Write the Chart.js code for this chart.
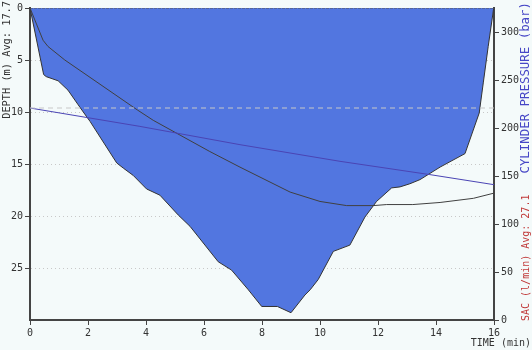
<!DOCTYPE html>
<html>
<head>
<meta charset="utf-8">
<script src="https://cdn.jsdelivr.net/npm/chart.js@4.4.1/dist/chart.umd.min.js"></script>
<style>
  body { margin: 0; background: #f4fafa; }
  #wrap { width: 532px; height: 350px; }
</style>
</head>
<body>
<div id="wrap"><canvas id="diveChart" width="532" height="350"></canvas></div>
<script>
// dive profile (time in min, depth in m)
var profileTime  = [0, 0.47, 0.56, 0.97, 1.31, 1.66, 1.94, 2.07, 2.99, 3.22, 3.56, 4.02, 4.48, 5.11, 5.52, 6.49, 6.95, 7.53, 7.99, 8.53, 9.0, 9.48, 9.66, 9.94, 10.46, 11.03, 11.55, 11.95, 12.47, 12.76, 13.1, 13.45, 14.14, 15.0, 15.49, 15.63, 15.8, 15.98, 16];
var profileDepth = [0, 6.4, 6.6, 7.0, 7.9, 9.3, 10.4, 10.9, 14.9, 15.4, 16.1, 17.4, 18.0, 19.9, 21.0, 24.4, 25.2, 27.1, 28.7, 28.7, 29.3, 27.6, 27.1, 26.1, 23.4, 22.8, 20.1, 18.6, 17.3, 17.2, 16.9, 16.5, 15.3, 14.0, 10.1, 7.2, 3.7, 0.2, 0];

// running average depth
var avgTime  = [0, 0.45, 0.62, 1.2, 3.7, 4.25, 6.2, 7.24, 8.97, 10.0, 10.92, 11.84, 12.3, 13.2, 14.14, 15.29, 16];
var avgDepth = [0, 3.1, 3.7, 5.0, 9.8, 10.8, 13.8, 15.3, 17.7, 18.6, 19.0, 19.0, 18.9, 18.9, 18.7, 18.3, 17.8];

// cylinder pressure (bar)
var presTime  = [0, 3.79, 7.24, 10.69, 13.79, 16];
var presValue = [221.5, 202.3, 183.2, 165.8, 151.9, 141.4];
var startPressure = 221.5;

// tick labels
var timeTicks  = [0, 2, 4, 6, 8, 10, 12, 14, 16];
var depthTicks = [0, 5, 10, 15, 20, 25];
var presTicks  = [0, 50, 100, 150, 200, 250, 300];

var depthLabel = 'DEPTH (m) Avg: 17.7';
var presLabel  = 'CYLINDER PRESSURE (bar)';
var sacLabel   = 'SAC (l/min) Avg: 27.1';
var timeLabel  = 'TIME (min)';

function pairs(xs, ys){
	var out = [];
	for (var i = 0; i < xs.length; i++) { out.push({x: xs[i], y: ys[i]}); }
	return out;
}

var MONO = '"DejaVu Sans Mono", "Liberation Mono", monospace';
Chart.defaults.font.family = MONO;
Chart.defaults.font.size = 10;
Chart.defaults.color = '#333';

//draw the axis captions outside of the plot
var captions = {
	id: 'captions',
	afterDraw: function(chart){
		var ctx = chart.ctx;
		ctx.save();
		ctx.textBaseline = 'middle';
		// left
		ctx.font = '10.3px ' + MONO;
		ctx.fillStyle = '#333';
		ctx.save();
		ctx.translate(7, 1);
		ctx.rotate(-Math.PI/2);
		ctx.textAlign = 'right';
		ctx.fillText(depthLabel, 0, 0);
		ctx.restore();
		// right, pressure
		ctx.font = '12.4px ' + MONO;
		ctx.fillStyle = '#4646c6';
		ctx.save();
		ctx.translate(525.5, 2);
		ctx.rotate(-Math.PI/2);
		ctx.textAlign = 'right';
		ctx.fillText(presLabel, 0, 0);
		ctx.restore();
		// right, SAC
		ctx.font = '10px ' + MONO;
		ctx.fillStyle = '#c03838';
		ctx.save();
		ctx.translate(526, 321);
		ctx.rotate(-Math.PI/2);
		ctx.textAlign = 'left';
		ctx.fillText(sacLabel, 0, 0);
		ctx.restore();
		// bottom
		ctx.fillStyle = '#333';
		ctx.textAlign = 'right';
		ctx.fillText(timeLabel, 531, 343);
		ctx.restore();
	}
};

function setTicks(list){
	return function(scale){ scale.ticks = list.map(function(v){ return {value: v}; }); };
}

new Chart('diveChart', {
	type: 'line',
	data: {
		datasets: [
			{ // depth 0 line
				data: pairs([0, 16], [0, 0]), yAxisID: 'depth',
				borderColor: '#555', borderWidth: 1, borderDash: [3, 1], pointRadius: 0, order: 1
			},
			{ // start pressure reference
				data: pairs([0, 16], [startPressure, startPressure]), yAxisID: 'pres',
				borderColor: '#c8c8c8', borderWidth: 1, borderDash: [5, 4], pointRadius: 0, order: 2
			},
			{
				data: pairs(presTime, presValue), yAxisID: 'pres',
				borderColor: '#4a44b4', borderWidth: 1, pointRadius: 0, order: 3
			},
			{
				data: pairs(avgTime, avgDepth), yAxisID: 'depth',
				borderColor: '#404040', borderWidth: 1, pointRadius: 0, order: 4
			},
			{
				data: pairs(profileTime, profileDepth), yAxisID: 'depth',
				borderColor: '#333', borderWidth: 1, backgroundColor: '#5276e0',
				fill: {value: 0}, pointRadius: 0, order: 5
			}
		]
	},
	options: {
		responsive: false,
		animation: false,
		devicePixelRatio: 1,
		layout: { padding: {top: 8, left: 0, right: 0, bottom: 0} },
		plugins: { legend: {display: false}, tooltip: {enabled: false} },
		elements: { line: {tension: 0} },
		scales: {
			x: {
				type: 'linear', min: 0, max: 16, z: 1,
				afterBuildTicks: setTicks(timeTicks),
				afterFit: function(s){ s.height = 30; },
				ticks: { padding: 2, maxRotation: 0 },
				grid: { drawOnChartArea: false, tickLength: 5, tickColor: '#444' },
				border: { color: '#444', width: 2 }
			},
			depth: {
				type: 'linear', position: 'left', reverse: true, min: 0, max: 30, z: 1,
				afterBuildTicks: setTicks(depthTicks),
				afterFit: function(s){ s.width = 30; },
				ticks: { padding: 2 },
				grid: {
					color: function(c){ return (c.tick && c.tick.value === 0) ? 'rgba(0,0,0,0)' : '#c8c8c8'; },
					tickLength: 5, tickColor: '#444'
				},
				border: { color: '#444', width: 2, dash: [1, 3] }
			},
			pres: {
				type: 'linear', position: 'right', min: 0, max: 326, z: 1,
				afterBuildTicks: setTicks(presTicks),
				afterFit: function(s){ s.width = 38; },
				ticks: { padding: 2 },
				grid: { drawOnChartArea: false, tickLength: 5, tickColor: '#444' },
				border: { color: '#444', width: 2 }
			}
		}
	},
	plugins: [captions]
});
</script>
</body>
</html>
